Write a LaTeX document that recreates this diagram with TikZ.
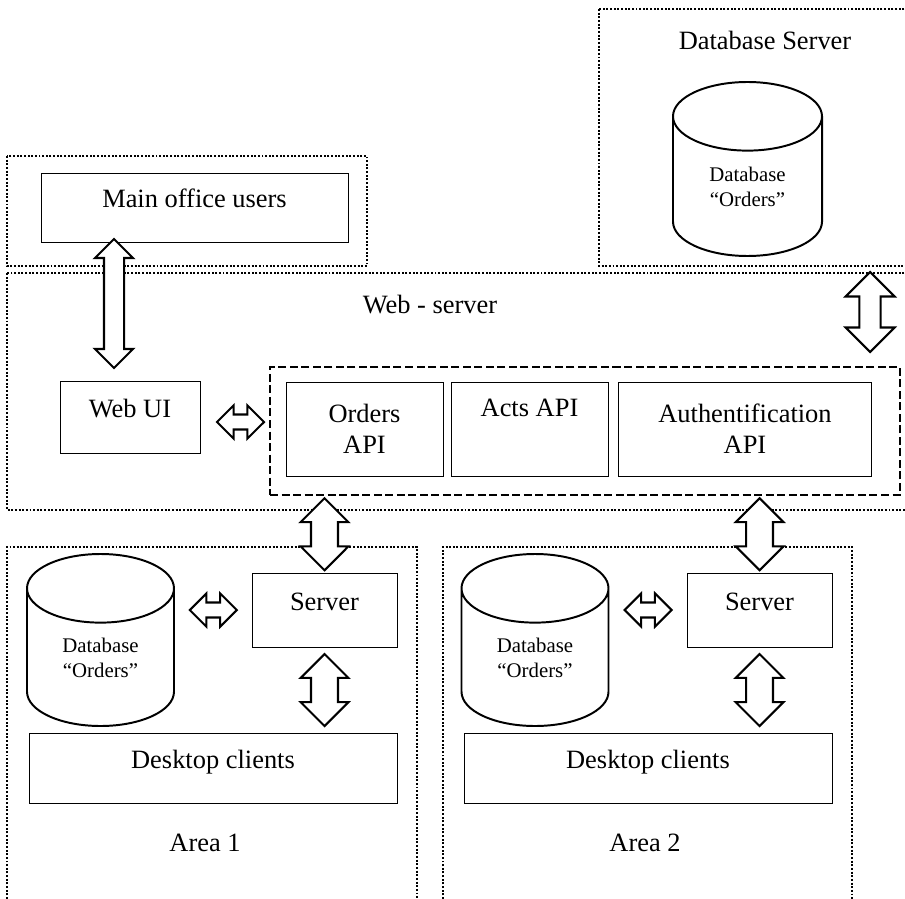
\documentclass[tikz,border=0pt]{standalone}
\usepackage{fontspec}
\setmainfont{Liberation Serif}
\usetikzlibrary{positioning,calc,shapes.geometric,shapes.arrows}

\tikzset{
	dotbox/.style={line width=1.6pt, dash pattern=on 1.4pt off 1.2pt},
	apizone/.style={draw, line width=1.4pt, dash pattern=on 5.7pt off 2.5pt},
	zonelabel/.style={font=\fontsize{18.8}{22}\selectfont, inner sep=0pt},
	block/.style={draw, line width=0.7pt, inner sep=0pt, font=\fontsize{18.8}{22}\selectfont,
			text height=1.5ex, text depth=1.5ex},
	apiblock/.style={draw, line width=0.7pt, inner sep=0pt, align=center,
			font=\fontsize{18.8}{22}\selectfont, minimum width=39.25mm, minimum height=23.5mm},
	dbase/.style={cylinder, shape border rotate=90, draw, line width=1.4pt, aspect=0.9,
			anchor=shape center, inner sep=0pt, align=center, font=\fontsize{14.8}{17.5}\selectfont},
	dblarrow/.style={double arrow, draw, line width=1.5pt, inner sep=0pt, fill=white},
	vbig/.style={dblarrow, rotate=90, minimum height=18mm, inner ysep=3.1mm, double arrow head extend=2.6mm},
	hsmall/.style={dblarrow, minimum height=11.75mm, inner ysep=1.6mm, double arrow head extend=2.3mm},
}

\begin{document}
\begin{tikzpicture}[x=0.25mm, y=-0.25mm]
	\clip (0,0) rectangle (905,898);

	% zones
	\draw[dotbox] (7,156) rectangle (367,266);
	\draw[dotbox] (599,9) rectangle (915,266);
	\draw[dotbox] (7,273) rectangle (915,510);
	\draw[dotbox] (7,910) -- (7,547) -- (417,547) -- (417,910);
	\draw[dotbox] (443,910) -- (443,547) -- (852,547) -- (852,910);
	\node[zonelabel] (dbsrv) at (765,40) {Database Server};
	\node[zonelabel] (websrv) at (430,305) {Web - server};
	\node[zonelabel] (area1) at (205,843) {Area 1};
	\node[zonelabel] (area2) at (645,843) {Area 2};

	% database server and main office
	\node[dbase, minimum width=37.25mm, minimum height=43.5mm] (db0) at (747.5,169) {Database\\“Orders”};
	\node[block, minimum width=76.75mm, minimum height=17.25mm] (users) at (194.5,207.5) {Main office users};

	% web server
	\node[block, minimum width=35mm, minimum height=18mm] (webui) at (130,417) {Web UI};
	\node[apizone, minimum width=157.5mm, minimum height=32mm] (apis) at (585,431) {};
	\node[apiblock] (orders) at (364.5,429) {Orders\\API};
	\node[apiblock, right=1.75mm of orders, text height=12pt, text depth=30pt] (acts) {Acts API};
	\node[apiblock, right=2.5mm of acts, minimum width=63mm] (auth) {Authentification\\API};

	% areas
	\foreach \i/\x/\dx in {1/0/0, 2/435/-0.5} {
		\node[dbase, minimum width=36.75mm, minimum height=43mm] (db\i) at (100.5+\x+\dx,640) {Database\\“Orders”};
		\node[block, minimum width=36.25mm, minimum height=18.5mm] (srv\i) at (324.5+\x,610) {Server};
		\node[block, minimum width=92mm, minimum height=17.5mm] (desk\i) at (213+\x,768) {Desktop clients};
	}

	% links
	\node[dblarrow, rotate=90, minimum height=32.25mm, inner ysep=2.25mm, double arrow head extend=2.25mm]
		(lnkusers) at (114,303.5) {};
	\node[dblarrow, rotate=90, minimum height=20mm, inner ysep=2.4mm, double arrow head extend=3.45mm]
		(lnkdb) at (870,312) {};
	\node[hsmall] (lnkweb) at (240.5,422) {};
	\foreach \i in {1,2} {
		\node[vbig] (lnkapi\i) at ($(apis.south -| srv\i)!.5!(srv\i.north)$) {};
		\node[vbig] (lnkdesk\i) at ($(srv\i.south)!.5!(desk\i.north -| srv\i)$) {};
		\node[hsmall] (lnkdb\i) at ($(db\i.east |- srv\i)!.5!(srv\i.west)$) {};
	}
\end{tikzpicture}
\end{document}
